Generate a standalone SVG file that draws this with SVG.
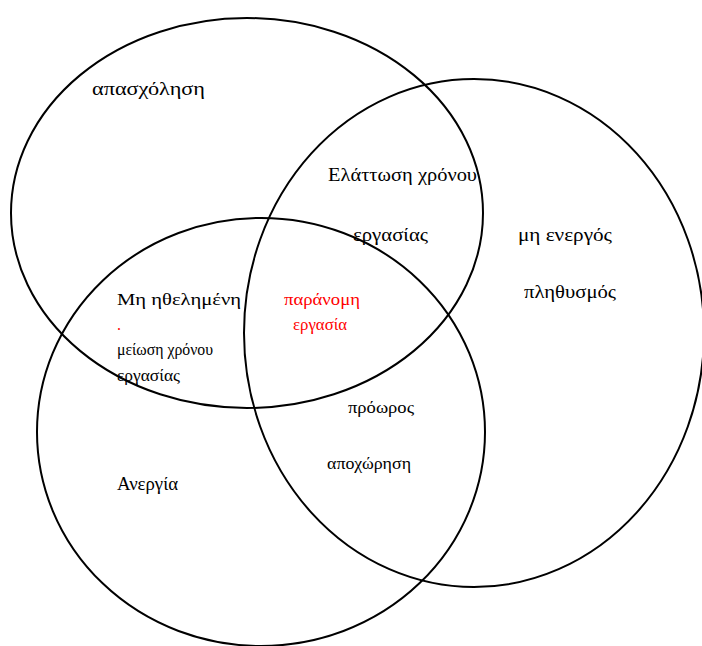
<svg xmlns="http://www.w3.org/2000/svg" width="702" height="646" viewBox="0 0 702 646">
<style>
.set{fill:none;stroke:#000;stroke-width:2}
.t{font-family:"Liberation Serif","DejaVu Serif",serif;font-size:18px;fill:#000}
.s{font-family:"Liberation Serif","DejaVu Serif",serif;font-size:16px;fill:#000}
.r{fill:#ff0000}
</style>
<rect width="702" height="646" fill="#fff"/>
<g id="sets">
<ellipse id="apascholisi" class="set" cx="247" cy="213" rx="236" ry="195"/>
<ellipse id="mi-energos" class="set" cx="474" cy="333" rx="230" ry="254"/>
<ellipse id="anergia" class="set" cx="261" cy="432" rx="224" ry="214"/>
</g>
<g id="labels">
<text class="t" x="92" y="95" textLength="113" lengthAdjust="spacingAndGlyphs">απασχόληση</text>
<text class="t" x="328" y="181" textLength="149" lengthAdjust="spacingAndGlyphs">Ελάττωση χρόνου</text>
<text class="t" x="353" y="241" textLength="75" lengthAdjust="spacingAndGlyphs">εργασίας</text>
<text class="t" x="518" y="241" textLength="94" lengthAdjust="spacingAndGlyphs">μη ενεργός</text>
<text class="t" x="524" y="298" textLength="92" lengthAdjust="spacingAndGlyphs">πληθυσμός</text>
<text class="s" x="117" y="305" textLength="124" lengthAdjust="spacingAndGlyphs">Μη ηθελημένη</text>
<text class="s r" x="117" y="330">.</text>
<text class="s" x="117" y="355" textLength="96" lengthAdjust="spacingAndGlyphs">μείωση χρόνου</text>
<text class="s" x="117" y="381" textLength="63" lengthAdjust="spacingAndGlyphs">εργασίας</text>
<text class="s r" x="284" y="305" textLength="76" lengthAdjust="spacingAndGlyphs">παράνομη</text>
<text class="s r" x="293" y="330" textLength="54" lengthAdjust="spacingAndGlyphs">εργασία</text>
<text class="s" x="348" y="413" textLength="66" lengthAdjust="spacingAndGlyphs">πρόωρος</text>
<text class="s" x="327" y="469" textLength="84" lengthAdjust="spacingAndGlyphs">αποχώρηση</text>
<text class="t" x="117" y="490" textLength="61" lengthAdjust="spacingAndGlyphs">Ανεργία</text>
</g>
</svg>
